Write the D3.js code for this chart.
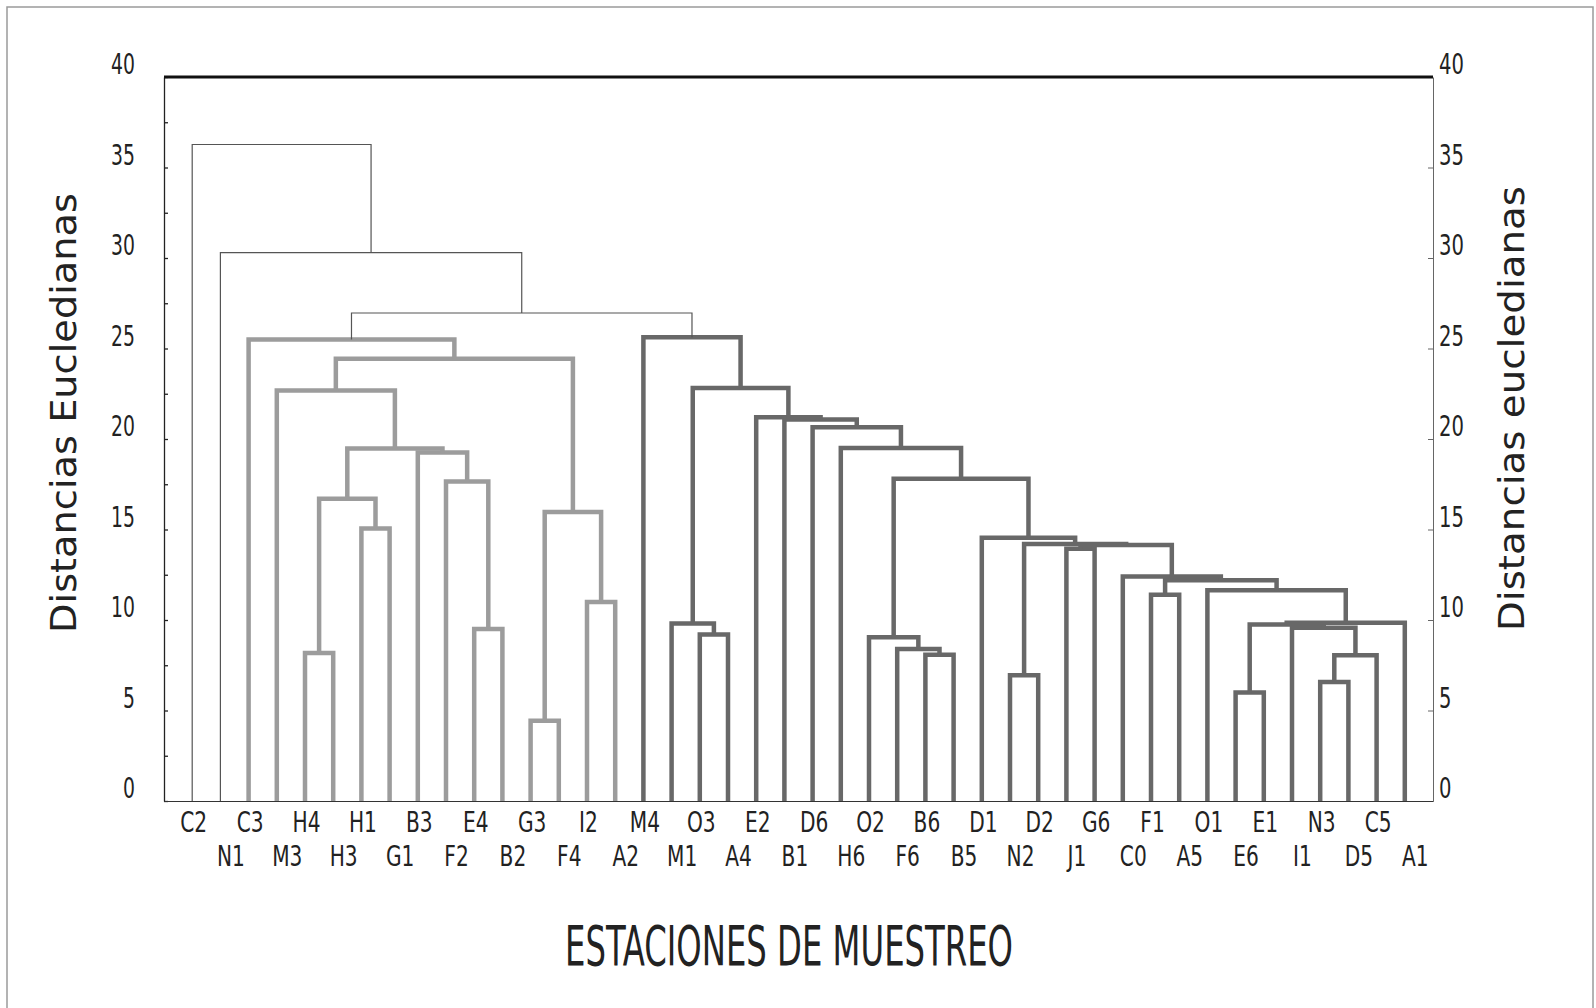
<!DOCTYPE html>
<html>
<head>
<meta charset="utf-8">
<script src="https://cdn.jsdelivr.net/npm/d3@7"></script>
<style>
  html, body { margin: 0; padding: 0; background: #fff; }
  svg { display: block; }
</style>
</head>
<body>
<svg id="chart" width="1596" height="1008"></svg>
<script>
// ---------------- DATA ----------------
const leaves = ["C2","N1","C3","M3","H4","H3","H1","G1","B3","F2","E4","B2","G3","F4","I2","A2",
  "M4","M1","O3","A4","E2","B1","D6","H6","O2","F6","B6","B5","D1","N2","D2","J1","G6","C0",
  "F1","A5","O1","E6","E1","I1","N3","D5","C5","A1"];

const yTicks = [0, 5, 10, 15, 20, 25, 30, 35, 40];
const yMinorTicks = [0, 2.5, 5, 7.5, 10, 12.5, 15, 17.5, 20, 22.5, 25, 27.5, 30, 32.5, 35, 37.5, 40];

// [id, left child, right child, height]
const lightMerges = [
  ["m1", "H4", "H3", 8.17],
  ["m2", "H1", "G1", 15.06],
  ["m3", "m1", "m2", 16.7],
  ["m4", "E4", "B2", 9.5],
  ["m5", "F2", "m4", 17.65],
  ["m6", "B3", "m5", 19.25],
  ["m7", "m3", "m6", 19.48],
  ["m8", "M3", "m7", 22.68],
  ["m9", "G3", "F4", 4.43],
  ["m10", "I2", "A2", 11.0],
  ["m11", "m9", "m10", 15.96],
  ["m12", "m8", "m11", 24.43],
  ["m13", "C3", "m12", 25.5]
];
const darkMerges = [
  ["m14", "O3", "A4", 9.2],
  ["m15", "M1", "m14", 9.8],
  ["m16", "B6", "B5", 8.08],
  ["m17", "F6", "m16", 8.4],
  ["m18", "O2", "m17", 9.05],
  ["m19", "N2", "D2", 6.95],
  ["m20", "J1", "G6", 13.93],
  ["m21", "F1", "A5", 11.4],
  ["m22", "E6", "E1", 6.0],
  ["m23", "N3", "D5", 6.58],
  ["m24", "m23", "C5", 8.05],
  ["m25", "I1", "m24", 9.57],
  ["m26", "m22", "m25", 9.75],
  ["m27", "m26", "A1", 9.85],
  ["m28", "O1", "m27", 11.64],
  ["m29", "m21", "m28", 12.19],
  ["m30", "C0", "m29", 12.41],
  ["m31", "m20", "m30", 14.15],
  ["m32", "m19", "m31", 14.2],
  ["m33", "D1", "m32", 14.55],
  ["m34", "m18", "m33", 17.8],
  ["m35", "H6", "m34", 19.5],
  ["m36", "D6", "m35", 20.65],
  ["m37", "B1", "m36", 21.08],
  ["m38", "E2", "m37", 21.2],
  ["m39", "m15", "m38", 22.82],
  ["m40", "M4", "m39", 25.62]
];
const rootMerges = [
  ["m41", "m13", "m40", 26.96],
  ["m42", "N1", "m41", 30.3],
  ["m43", "C2", "m42", 36.27]
];

const yTitleLeft = "Distancias Eucledianas";
const yTitleRight = "Distancias eucledianas";
const xTitle = "ESTACIONES DE MUESTREO";

// ---------------- LAYOUT ----------------
(function () {
const svg = d3.select("#chart");
const pLeft = 164, pRight = 1433, pTop = 77, pBottom = 801;
const narrow = "'Liberation Sans Narrow', 'DejaVu Sans Condensed', 'Arial Narrow', sans-serif";

const x = d3.scalePoint().domain(leaves).range([pLeft, pRight]).padding(1);
const y = d3.scaleLinear().domain([0, 40]).range([pBottom, pTop]);

function squeeze(sel, f) {
  sel.each(function () {
    const w = this.getComputedTextLength();
    d3.select(this).attr("textLength", w * f).attr("lengthAdjust", "spacingAndGlyphs");
  });
}

// page frame
svg.append("rect").attr("x", 7).attr("y", 7).attr("width", 1586).attr("height", 1020)
  .attr("fill", "none").attr("stroke", "#9a9a9a").attr("stroke-width", 1.5);

// node positions
const pos = {};
leaves.forEach(l => pos[l] = { x: x(l), h: 0 });
function place(list) {
  list.forEach(([id, a, b, h]) => {
    pos[id] = { x: (pos[a].x + pos[b].x) / 2, h: h };
  });
}
place(lightMerges); place(darkMerges); place(rootMerges);

function drawMerges(list, color, width) {
  svg.append("g").selectAll("path").data(list).join("path")
    .attr("d", ([id, a, b, h]) => {
      const pa = pos[a], pb = pos[b];
      return `M${pa.x},${y(pa.h)}V${y(h)}H${pb.x}V${y(pb.h)}`;
    })
    .attr("fill", "none")
    .attr("stroke", color)
    .attr("stroke-width", width)
    .attr("stroke-linejoin", "miter");
}
drawMerges(lightMerges, "#9c9c9c", 4.5);
drawMerges(darkMerges, "#686868", 4.5);
drawMerges(rootMerges, "#555", 1.2);

// ---------------- AXES ----------------
svg.append("g").attr("transform", `translate(${pLeft},0)`)
  .call(d3.axisRight(y).tickValues(yMinorTicks).tickSize(4).tickSizeOuter(0).tickFormat(""))
  .call(g => g.selectAll("path,line").attr("stroke", "#222").attr("stroke-width", 1.3));

svg.append("g").attr("transform", `translate(${pRight},0)`)
  .call(d3.axisLeft(y).tickValues(yTicks).tickSize(5).tickSizeOuter(0).tickFormat(""))
  .call(g => g.selectAll("path,line").attr("stroke", "#666").attr("stroke-width", 1));

svg.append("g").attr("transform", `translate(0,${pBottom})`)
  .call(d3.axisBottom(x).tickSize(0).tickSizeOuter(0))
  .call(g => g.select(".domain").attr("stroke", "#333").attr("stroke-width", 1.2))
  .call(g => g.selectAll("text")
    .attr("font-family", narrow).attr("font-size", 28).attr("fill", "#222")
    .attr("dy", null)
    .attr("y", (d, i) => i % 2 === 0 ? 31 : 64.5)
    .attr("dx", (d, i) => i % 2 === 0 ? 1 : 10)
    .call(squeeze, 0.8));

svg.append("line").attr("x1", pLeft).attr("x2", pRight).attr("y1", y(40)).attr("y2", y(40))
  .attr("stroke", "#111").attr("stroke-width", 3);

svg.append("g").selectAll("text").data(yTicks).join("text")
  .attr("x", 135).attr("y", d => y(d) - 3)
  .attr("text-anchor", "end")
  .attr("font-family", narrow).attr("font-size", 29).attr("fill", "#222")
  .text(d => d)
  .call(squeeze, 0.72);
svg.append("g").selectAll("text").data(yTicks).join("text")
  .attr("x", 1439).attr("y", d => y(d) - 3)
  .attr("text-anchor", "start")
  .attr("font-family", narrow).attr("font-size", 29).attr("fill", "#222")
  .text(d => d)
  .call(squeeze, 0.75);

svg.append("text").attr("transform", "translate(76,633) rotate(-90)")
  .attr("font-family", "'DejaVu Sans', sans-serif").attr("font-size", 36).attr("fill", "#222")
  .attr("textLength", 440).attr("lengthAdjust", "spacingAndGlyphs")
  .text(yTitleLeft);
svg.append("text").attr("transform", "translate(1524,631) rotate(-90)")
  .attr("font-family", "'DejaVu Sans', sans-serif").attr("font-size", 36).attr("fill", "#222")
  .attr("textLength", 445).attr("lengthAdjust", "spacingAndGlyphs")
  .text(yTitleRight);
svg.append("text").attr("x", 565).attr("y", 965)
  .attr("font-family", narrow).attr("font-size", 55).attr("fill", "#222")
  .attr("textLength", 448).attr("lengthAdjust", "spacingAndGlyphs")
  .text(xTitle);
})();
</script>
</body>
</html>
